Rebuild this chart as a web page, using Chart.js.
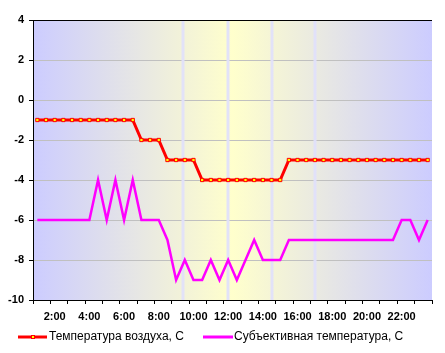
<!DOCTYPE html>
<html><head><meta charset="utf-8">
<script src="https://cdn.jsdelivr.net/npm/chart.js@4.4.1/dist/chart.umd.min.js"></script>
<style>html,body{margin:0;padding:0;background:#fff}canvas{display:block}</style>
</head><body>
<canvas id="c" width="445" height="353"></canvas>
<script>
const timeLabels = ['1:00','1:30','2:00','2:30','3:00','3:30','4:00','4:30','5:00','5:30','6:00','6:30',
  '7:00','7:30','8:00','8:30','9:00','9:30','10:00','10:30','11:00','11:30','12:00','12:30',
  '13:00','13:30','14:00','14:30','15:00','15:30','16:00','16:30','17:00','17:30','18:00','18:30',
  '19:00','19:30','20:00','20:30','21:00','21:30','22:00','22:30','23:00','23:30'];
const shownLabels = ['2:00','4:00','6:00','8:00','10:00','12:00','14:00','16:00','18:00','20:00','22:00'];
const airTemp = [-1,-1,-1,-1,-1,-1,-1,-1,-1,-1,-1,-1,
  -2,-2,-2,
  -3,-3,-3,-3,
  -4,-4,-4,-4,-4,-4,-4,-4,-4,-4,
  -3,-3,-3,-3,-3,-3,-3,-3,-3,-3,-3,-3,-3,-3,-3,-3,-3];
const feltTemp = [-6,-6,-6,-6,-6,-6,-6,-4,-6,-4,-6,-4,
  -6,-6,-6,-7,-9,-8,-9,-9,-8,-9,-8,-9,-8,-7,-8,-8,-8,
  -7,-7,-7,-7,-7,-7,-7,-7,-7,-7,-7,-7,-7,
  -6,-6,-7,-6];
const seriesNames = ['Температура воздуха, С', 'Субъективная температура, С'];
const yMin = -10, yMax = 4, yStep = 2;

// decorative background (style only)
const sunLines = [0.377, 0.4875, 0.598, 0.707];

const bgPlugin = {
  id: 'bg',
  beforeDraw(chart) {
    const {ctx, chartArea: a} = chart;
    const g = ctx.createLinearGradient(a.left, 0, a.right, 0);
    g.addColorStop(0, '#CCCCFF');
    g.addColorStop(0.5, '#FFFFCC');
    g.addColorStop(1, '#CCCCFF');
    ctx.save();
    ctx.fillStyle = g;
    ctx.fillRect(a.left, a.top, a.right - a.left, a.bottom - a.top);
    ctx.restore();
  },
  beforeDatasetsDraw(chart) {
    const {ctx, chartArea: a} = chart;
    ctx.save();
    ctx.fillStyle = 'rgba(224,224,250,0.95)';
    sunLines.forEach(f => {
      const x = a.left + f * (a.right - a.left);
      ctx.fillRect(Math.round(x) - 1.5, a.top + 1, 3, a.bottom - a.top - 1);
    });
    ctx.restore();
  }
};

const legendPlugin = {
  id: 'customLegend',
  afterDraw(chart) {
    const ctx = chart.ctx;
    const items = [{x: 18, len: 29, tx: 49}, {x: 203, len: 30, tx: 234}];
    const y = 337;
    chart.data.datasets.forEach((ds, k) => {
      const it = items[k];
      ctx.save();
      ctx.strokeStyle = ds.borderColor;
      ctx.lineWidth = 3;
      ctx.beginPath();
      ctx.moveTo(it.x, y);
      ctx.lineTo(it.x + it.len, y);
      ctx.stroke();
      if (ds.pointRadius > 0) {
        const cx = Math.round(it.x + it.len / 2);
        ctx.fillStyle = ds.pointBackgroundColor;
        ctx.strokeStyle = ds.pointBorderColor;
        ctx.lineWidth = 1;
        ctx.fillRect(cx - 1.5, y - 1.5, 3, 3);
        ctx.strokeRect(cx - 1.5, y - 1.5, 3, 3);
      }
      ctx.fillStyle = '#000';
      ctx.font = '12px "Liberation Sans", Arial, sans-serif';
      ctx.textBaseline = 'middle';
      ctx.textAlign = 'left';
      ctx.fillText(ds.label, it.tx, y);
      ctx.restore();
    });
  }
};

const tickFont = {family: '"Liberation Sans", Arial, sans-serif', size: 11, weight: 'bold'};

new Chart(document.getElementById('c'), {
  type: 'line',
  data: {
    labels: timeLabels,
    datasets: [
      {
        label: seriesNames[0],
        data: airTemp,
        borderColor: '#FF0000',
        borderWidth: 3,
        pointStyle: 'rect',
        pointRadius: 2.3,
        pointBackgroundColor: '#FFFF00',
        pointBorderColor: '#FF0000',
        pointBorderWidth: 1,
        tension: 0,
        order: 1
      },
      {
        label: seriesNames[1],
        data: feltTemp,
        borderColor: '#FF00FF',
        borderWidth: 2.5,
        pointRadius: 0,
        tension: 0,
        order: 2
      }
    ]
  },
  options: {
    responsive: false,
    animation: false,
    devicePixelRatio: 1,
    layout: {padding: {top: 20, right: 13, bottom: 28, left: 0}},
    plugins: {legend: {display: false}, tooltip: {enabled: false}},
    scales: {
      x: {
        type: 'category',
        offset: true,
        grid: {
          offset: true,
          drawOnChartArea: false,
          drawTicks: true,
          tickLength: 4,
          tickColor: ctx => (ctx.index === undefined || ctx.index % 2 === 0) ? '#000' : 'rgba(0,0,0,0)'
        },
        border: {color: '#000', width: 1},
        ticks: {
          autoSkip: false,
          maxRotation: 0,
          minRotation: 0,
          padding: 6,
          color: '#000',
          font: tickFont,
          callback: function(value, index) {
            const l = timeLabels[index];
            return shownLabels.includes(l) ? l : '';
          }
        },
        afterFit: s => { s.height = 25; }
      },
      y: {
        min: yMin, max: yMax,
        grid: {
          color: ctx => (ctx.tick && (ctx.tick.value === yMax || ctx.tick.value === yMin)) ? '#000' : '#C0C0C0',
          tickColor: '#000',
          tickLength: 4,
          drawTicks: true
        },
        border: {color: '#000', width: 1},
        ticks: {
          stepSize: yStep,
          padding: 5,
          color: '#000',
          font: tickFont
        },
        afterFit: s => { s.width = 33; }
      }
    }
  },
  plugins: [bgPlugin, legendPlugin]
});
</script>
</body></html>
